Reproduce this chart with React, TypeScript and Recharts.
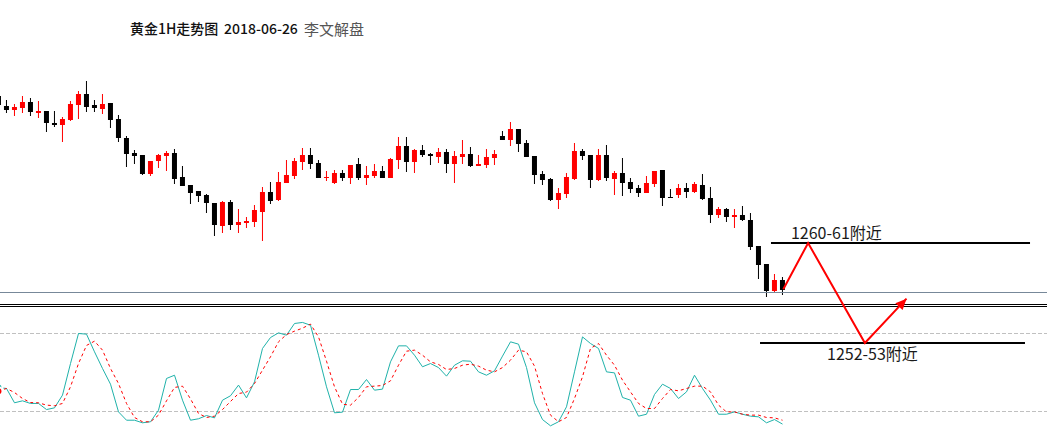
import React from 'react';
import { ComposedChart, Bar, Line, XAxis, YAxis, ReferenceLine } from 'recharts';

// 黄金 1H candles, first entry is the half-visible bar at the left edge
const open = [
  1272.24, 1271.44, 1271.14, 1271.30, 1271.76, 1270.90, 1271.04, 1270.10, 1269.94, 1270.32,
  1271.54, 1272.40, 1271.54, 1271.20, 1271.68, 1270.40, 1268.88, 1267.68, 1267.52, 1266.02,
  1267.04, 1267.46, 1267.68, 1265.76, 1265.12, 1264.64, 1264.32, 1263.68, 1261.86, 1263.76,
  1261.94, 1262.10, 1262.18, 1262.98, 1264.56, 1263.92, 1265.30, 1265.86, 1266.98, 1267.52,
  1266.88, 1265.68, 1265.28, 1266.08, 1265.68, 1266.80, 1265.68, 1265.84, 1266.24, 1265.68,
  1267.12, 1268.24, 1266.96, 1267.92, 1267.60, 1267.36, 1267.76, 1266.80, 1267.36, 1267.60,
  1266.64, 1266.72, 1267.28, 1269.04, 1268.72, 1269.60, 1268.48, 1267.44, 1266.00, 1265.60,
  1263.92, 1264.40, 1265.60, 1267.84, 1267.52, 1265.52, 1267.52, 1265.60, 1266.08, 1265.36,
  1264.88, 1264.48, 1265.20, 1266.32, 1264.16, 1264.32, 1264.88, 1264.56, 1265.12, 1264.08,
  1262.72, 1263.20, 1262.56, 1262.72, 1262.32, 1260.24, 1258.80, 1256.64, 1257.52,
];
const high = [
  1272.40, 1271.92, 1271.60, 1272.24, 1272.08, 1271.84, 1271.04, 1271.04, 1270.56, 1271.84,
  1272.64, 1273.44, 1271.92, 1272.40, 1271.74, 1270.72, 1269.04, 1267.92, 1267.52, 1267.04,
  1267.60, 1267.84, 1268.00, 1266.64, 1265.12, 1264.64, 1264.40, 1263.68, 1263.84, 1263.92,
  1263.20, 1262.56, 1263.52, 1264.96, 1265.36, 1266.16, 1267.12, 1267.28, 1268.08, 1268.08,
  1267.12, 1266.24, 1266.32, 1266.32, 1266.72, 1267.28, 1266.64, 1266.80, 1266.64, 1267.28,
  1268.96, 1268.96, 1268.00, 1268.32, 1267.68, 1268.08, 1268.00, 1267.84, 1268.72, 1268.16,
  1267.52, 1268.00, 1267.92, 1269.44, 1270.16, 1269.60, 1268.72, 1267.44, 1266.24, 1265.68,
  1264.88, 1266.08, 1268.48, 1268.00, 1267.52, 1268.00, 1268.32, 1266.24, 1267.28, 1265.68,
  1265.12, 1265.84, 1266.24, 1266.32, 1264.80, 1265.20, 1265.28, 1265.36, 1266.00, 1264.96,
  1263.36, 1263.28, 1263.20, 1263.44, 1262.88, 1260.24, 1258.80, 1258.00, 1257.76,
];
const low = [
  1271.30, 1270.90, 1270.66, 1270.90, 1270.66, 1270.50, 1269.38, 1269.78, 1268.58, 1270.26,
  1270.40, 1270.98, 1270.98, 1270.82, 1269.70, 1268.58, 1266.58, 1266.82, 1265.92, 1265.86,
  1266.48, 1266.26, 1265.22, 1265.06, 1263.62, 1263.78, 1262.90, 1261.06, 1261.30, 1261.54,
  1261.30, 1261.70, 1261.78, 1260.66, 1263.60, 1263.86, 1265.30, 1265.60, 1266.32, 1266.40,
  1265.68, 1265.44, 1265.20, 1265.44, 1265.20, 1265.52, 1265.12, 1265.68, 1265.68, 1265.68,
  1266.40, 1266.16, 1266.08, 1267.36, 1266.72, 1266.88, 1266.08, 1265.28, 1266.80, 1266.56,
  1266.64, 1266.48, 1266.72, 1268.72, 1268.24, 1267.76, 1267.36, 1265.20, 1265.12, 1263.84,
  1263.20, 1264.08, 1265.52, 1267.12, 1264.88, 1265.44, 1265.44, 1264.32, 1264.24, 1264.48,
  1264.16, 1264.48, 1264.96, 1263.44, 1264.08, 1264.08, 1264.08, 1264.48, 1263.92, 1262.08,
  1262.48, 1262.16, 1261.68, 1262.24, 1259.92, 1257.60, 1256.16, 1256.48, 1256.32,
];
const close = [
  1271.52, 1271.14, 1271.36, 1271.76, 1270.98, 1271.04, 1270.10, 1269.98, 1270.40, 1271.60,
  1272.40, 1271.38, 1271.34, 1271.60, 1270.34, 1268.90, 1267.62, 1267.46, 1266.00, 1267.04,
  1267.52, 1267.68, 1265.60, 1265.06, 1264.50, 1264.26, 1263.70, 1261.94, 1263.76, 1261.94,
  1262.16, 1262.24, 1263.12, 1264.56, 1263.86, 1265.36, 1265.92, 1267.04, 1267.52, 1266.82,
  1265.68, 1265.76, 1266.08, 1265.68, 1266.72, 1265.68, 1265.92, 1266.24, 1265.68, 1267.20,
  1268.24, 1266.96, 1267.92, 1267.52, 1267.44, 1267.76, 1266.80, 1267.44, 1267.60, 1266.64,
  1266.80, 1267.36, 1267.60, 1268.72, 1269.60, 1268.40, 1267.36, 1265.92, 1265.52, 1263.92,
  1264.48, 1265.76, 1267.84, 1267.44, 1265.52, 1267.52, 1265.68, 1266.08, 1265.28, 1264.80,
  1264.48, 1265.28, 1266.24, 1264.08, 1264.08, 1264.88, 1264.56, 1265.20, 1264.00, 1262.72,
  1263.20, 1262.56, 1262.72, 1262.32, 1260.16, 1258.72, 1256.64, 1257.52, 1256.72,
];

// stochastic %K (main) and %D (signal)
const stochK = [
  38.5, 37.7, 26.7, 28.2, 26.2, 26.2, 21.5, 22.8, 32.6, 56.9,
  80.0, 79.5, 65.9, 53.1, 41.0, 19.7, 13.3, 13.3, 11.3, 12.1,
  21.0, 45.4, 47.9, 28.7, 13.3, 14.4, 16.9, 15.1, 28.7, 32.1,
  40.3, 30.5, 42.8, 68.5, 76.9, 80.5, 78.7, 87.7, 88.5, 86.4,
  63.3, 39.0, 19.0, 19.5, 36.9, 36.9, 44.6, 36.4, 37.2, 58.2,
  70.5, 70.5, 63.3, 54.4, 56.9, 53.8, 47.2, 55.6, 59.0, 58.7,
  50.5, 47.9, 51.3, 62.6, 73.6, 71.8, 53.8, 26.7, 13.8, 9.0,
  12.1, 23.6, 50.5, 77.4, 72.3, 68.5, 50.5, 49.7, 30.8, 28.7,
  16.4, 17.9, 33.1, 41.0, 37.7, 30.0, 35.1, 47.9, 37.7, 28.7,
  17.9, 17.9, 19.7, 17.9, 16.4, 15.9, 11.3, 13.8, 10.3,
];
const stochD = [
  35.6, 37.7, 34.6, 30.0, 26.9, 26.7, 24.9, 24.4, 26.2, 39.0,
  56.9, 70.8, 74.1, 67.2, 53.1, 41.5, 26.2, 15.4, 12.1, 12.1,
  17.2, 28.2, 38.5, 39.5, 29.7, 18.5, 15.4, 16.4, 21.5, 27.7,
  33.8, 34.9, 41.5, 51.8, 62.1, 73.6, 79.2, 81.8, 84.1, 87.2,
  77.4, 58.7, 39.0, 25.6, 24.9, 30.8, 39.0, 39.5, 40.0, 43.6,
  55.6, 66.4, 67.2, 63.3, 58.2, 56.2, 52.3, 53.1, 55.6, 56.4,
  54.9, 51.8, 50.5, 53.8, 59.5, 67.2, 65.9, 54.9, 33.8, 17.2,
  12.1, 15.4, 30.0, 46.7, 68.5, 72.3, 63.3, 55.6, 44.1, 35.1,
  26.2, 22.3, 22.3, 30.0, 36.9, 35.9, 37.7, 39.5, 39.5, 35.1,
  24.9, 19.7, 19.7, 17.9, 17.2, 17.2, 15.4, 15.1, 13.3,
];

// levels and the drawn forecast
const bidPrice = 1256.54;
const paneSplit = [1255.58, 1255.42];
const stochLevels = [80, 20];
const upperZone = { price: 1260.5, from: 95.56, to: 127.94, label: '1260-61附近' };
const lowerZone = { price: 1252.5, from: 94.19, to: 127.31, label: '1252-53附近' };
const forecastX = [97.1, 100.2, 107.3, 112.5];
const forecastP = [1256.8, 1260.5, 1252.5, 1256.05];

const rows = open.map((o, n) => ({
  i: n - 1,
  open: o,
  high: high[n],
  low: low[n],
  close: close[n],
  k: stochK[n],
  d: stochD[n],
}));
const forecast = forecastX.map((x, n) => ({ i: x, p: forecastP[n] }));

const cjk = '"Noto Sans CJK SC", "Noto Sans", sans-serif';
const labelFont = { fontFamily: cjk, fontSize: 16, fill: '#1a1a1a' };

const renderCandle = (props: any) => {
  const { x, y, width, height, payload, index } = props;
  const { open: o, close: c, high: h, low: l } = payload;
  const cx = x + width / 2;
  const py = (v: number) => y + ((h - v) / (h - l)) * height;
  const top = Math.round(py(Math.max(o, c)));
  const bot = Math.round(py(Math.min(o, c)));
  const color = c > o ? '#ff0000' : '#000000';
  return (
    <g key={`c-${index}`}>
      <rect x={cx - 0.5} y={Math.round(y)} width={1} height={Math.max(1, Math.round(height))} fill={color} />
      <rect x={cx - 2.5} y={top} width={5} height={Math.max(1, bot - top)} fill={color} />
    </g>
  );
};

const renderArrowHead = (props: any) => {
  const { cx, cy, index, points } = props;
  if (index !== forecastX.length - 1 || !points) return <g key={`f-${index}`} />;
  const prev = points[index - 1];
  const dx = cx - prev.x;
  const dy = cy - prev.y;
  const len = Math.hypot(dx, dy);
  const ux = dx / len;
  const uy = dy / len;
  const bx = cx - ux * 11;
  const by = cy - uy * 11;
  const nx = -uy * 5;
  const ny = ux * 5;
  return (
    <polygon
      key="arrow"
      points={`${cx},${cy} ${bx + nx},${by + ny} ${bx - nx},${by - ny}`}
      fill="#ff0000"
    />
  );
};

const titleBase: React.CSSProperties = {
  position: 'absolute',
  top: 21,
  lineHeight: '15px',
  fontFamily: cjk,
  whiteSpace: 'nowrap',
};

const App = () => {
  return (
    <div style={{ position: 'absolute', left: 0, top: 0, width: 1047, height: 433, background: '#fff', overflow: 'hidden' }}>
      <ComposedChart width={1047} height={433} data={rows} margin={{ top: 0, right: 0, bottom: 0, left: 0 }}>
        <XAxis dataKey="i" type="number" domain={[-0.8125, 130.0625]} allowDataOverflow hide />
        <YAxis yAxisId="price" type="number" domain={[1245.3, 1279.94]} allowDataOverflow hide />
        <YAxis yAxisId="stoch" type="number" domain={[3.46, 336.54]} allowDataOverflow hide />

        {stochLevels.map((v) => (
          <ReferenceLine key={v} yAxisId="stoch" y={v} stroke="#c0c0c0" strokeDasharray="4 2" />
        ))}
        <ReferenceLine yAxisId="price" y={bidPrice} stroke="#778899" />
        {paneSplit.map((v) => (
          <ReferenceLine key={v} yAxisId="price" y={v} stroke="#000" />
        ))}

        <Bar
          yAxisId="price"
          dataKey={(d: any) => [d.low, d.high]}
          barSize={5}
          shape={renderCandle}
          isAnimationActive={false}
        />

        <Line yAxisId="stoch" type="linear" dataKey="k" stroke="#20b2aa" strokeWidth={1} dot={false} isAnimationActive={false} />
        <Line yAxisId="stoch" type="linear" dataKey="d" stroke="#ff0000" strokeWidth={1} strokeDasharray="3 3" dot={false} isAnimationActive={false} />

        {[upperZone, lowerZone].map((z, n) => (
          <ReferenceLine
            key={z.label}
            yAxisId="price"
            segment={[{ x: z.from, y: z.price }, { x: z.to, y: z.price }]}
            stroke="#000"
            strokeWidth={2}
            label={(p: any) => (
              <text
                x={p.viewBox.x + (n === 0 ? 20 : 67)}
                y={p.viewBox.y + (n === 0 ? -4 : 17)}
                {...labelFont}
              >
                {z.label}
              </text>
            )}
          />
        ))}

        <Line
          yAxisId="price"
          data={forecast}
          type="linear"
          dataKey="p"
          stroke="#ff0000"
          strokeWidth={2}
          dot={renderArrowHead}
          activeDot={false}
          isAnimationActive={false}
        />
      </ComposedChart>

      <span style={{ ...titleBase, left: 130, fontSize: 14, color: '#111', fontWeight: 500 }}>黄金1H走势图</span>
      <span style={{ ...titleBase, left: 224, fontSize: 14, color: '#111', fontWeight: 500 }}>2018-06-26</span>
      <span style={{ ...titleBase, left: 304, fontSize: 15, color: '#555' }}>李文解盘</span>
    </div>
  );
};

export default App;
